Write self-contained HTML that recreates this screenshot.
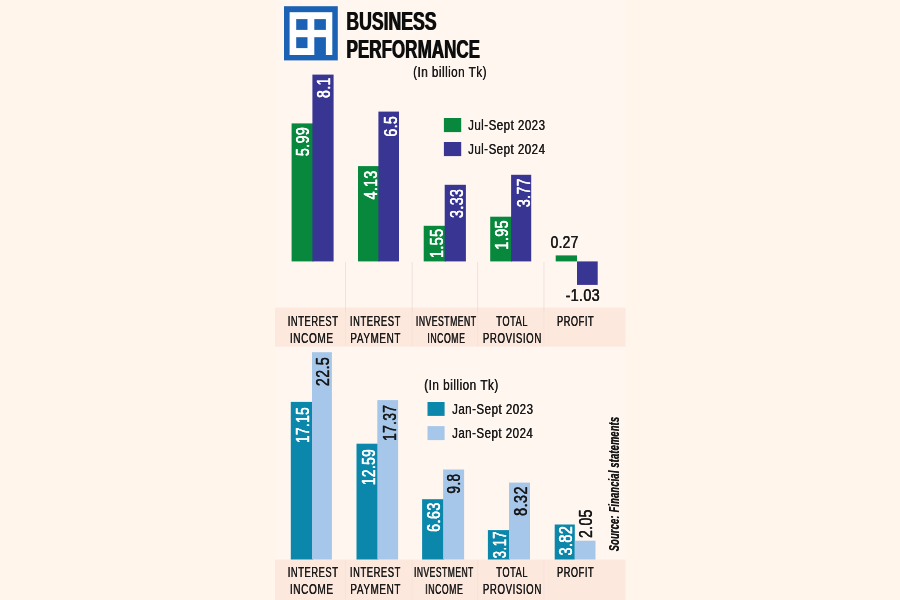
<!DOCTYPE html>
<html lang="en">
<head>
<meta charset="utf-8">
<title>Business performance</title>
<style>
html,body{margin:0;padding:0;background:#fff5ea;}
body{width:900px;height:600px;overflow:hidden;font-family:"Liberation Sans",sans-serif;}
svg{display:block;}
text{font-family:"Liberation Sans",sans-serif;}
</style>
</head>
<body>
<svg width="900" height="600" viewBox="0 0 900 600">
<defs><filter id="soft" x="0" y="0" width="900" height="600" filterUnits="userSpaceOnUse"><feGaussianBlur stdDeviation="0.3"/></filter></defs>
<rect x="0" y="0" width="900" height="600" fill="#fff5ea"/>
<rect x="275.5" y="0" width="350.5" height="600" fill="#fff6f0"/>
<rect x="275" y="307.5" width="350.6" height="39.2" fill="#fde8de"/>
<rect x="275" y="559.5" width="350.6" height="40.5" fill="#fde8de"/>
<rect x="345.0" y="262" width="1" height="50" fill="#e6d3ca" opacity="0.55"/>
<rect x="345.0" y="312" width="1" height="34" fill="#e6d3ca" opacity="0.25"/>
<rect x="345.0" y="559.5" width="1" height="40.5" fill="#e6d3ca" opacity="0.2"/>
<rect x="411.7" y="262" width="1" height="50" fill="#e6d3ca" opacity="0.55"/>
<rect x="411.7" y="312" width="1" height="34" fill="#e6d3ca" opacity="0.25"/>
<rect x="411.7" y="559.5" width="1" height="40.5" fill="#e6d3ca" opacity="0.2"/>
<rect x="477.1" y="262" width="1" height="50" fill="#e6d3ca" opacity="0.55"/>
<rect x="477.1" y="312" width="1" height="34" fill="#e6d3ca" opacity="0.25"/>
<rect x="477.1" y="559.5" width="1" height="40.5" fill="#e6d3ca" opacity="0.2"/>
<rect x="543.4" y="262" width="1" height="50" fill="#e6d3ca" opacity="0.55"/>
<rect x="543.4" y="312" width="1" height="34" fill="#e6d3ca" opacity="0.25"/>
<rect x="543.4" y="559.5" width="1" height="40.5" fill="#e6d3ca" opacity="0.2"/>
<g>
<rect x="284" y="6.2" width="53.8" height="54.2" fill="#1c62b4"/>
<rect x="289.6" y="12.2" width="42.7" height="42.8" fill="#ffffff"/>
<rect x="296.2" y="19.1" width="11.3" height="10.8" fill="#1c62b4"/>
<rect x="314.3" y="19.1" width="11.6" height="10.8" fill="#1c62b4"/>
<rect x="296.2" y="37.2" width="11.3" height="10.9" fill="#1c62b4"/>
<rect x="314.3" y="37.2" width="11.6" height="18.8" fill="#1c62b4"/>
</g>
<rect x="443.9" y="118" width="17.3" height="14.1" fill="#07883d"/>
<rect x="443.9" y="142" width="17.3" height="14.1" fill="#393592"/>
<rect x="427.5" y="402" width="17.1" height="13.9" fill="#0b87ab"/>
<rect x="427.5" y="426.1" width="17.1" height="14" fill="#a6c7e9"/>
<rect x="291.6" y="123.4" width="21.8" height="138.0" fill="#07883d"/>
<rect x="312.4" y="74.6" width="21.2" height="186.8" fill="#393592"/>
<rect x="358.0" y="166.1" width="21.4" height="95.3" fill="#07883d"/>
<rect x="378.4" y="111.6" width="20.6" height="149.8" fill="#393592"/>
<rect x="423.7" y="225.8" width="22.0" height="35.6" fill="#07883d"/>
<rect x="444.7" y="184.8" width="21.2" height="76.6" fill="#393592"/>
<rect x="490.2" y="216.7" width="21.9" height="44.7" fill="#07883d"/>
<rect x="511.1" y="174.8" width="20.1" height="86.6" fill="#393592"/>
<rect x="555.7" y="255.4" width="21.3" height="6.0" fill="#07883d"/>
<rect x="577.0" y="261.4" width="20.7" height="23.5" fill="#393592"/>
<rect x="290.8" y="401.9" width="22.2" height="157.6" fill="#0b87ab"/>
<rect x="312.0" y="352.2" width="19.9" height="207.3" fill="#a6c7e9"/>
<rect x="356.5" y="443.7" width="21.8" height="115.8" fill="#0b87ab"/>
<rect x="377.3" y="400.1" width="20.8" height="159.4" fill="#a6c7e9"/>
<rect x="422.1" y="499.2" width="22.0" height="60.3" fill="#0b87ab"/>
<rect x="443.1" y="469.5" width="21.0" height="90.0" fill="#a6c7e9"/>
<rect x="487.9" y="530.1" width="22.1" height="29.4" fill="#0b87ab"/>
<rect x="509.0" y="482.6" width="21.0" height="76.9" fill="#a6c7e9"/>
<rect x="554.7" y="524.5" width="20.1" height="35.0" fill="#0b87ab"/>
<rect x="574.8" y="540.7" width="20.7" height="18.8" fill="#a6c7e9"/>
<g filter="url(#soft)">
<text transform="translate(346.04,29.90) scale(0.6742,1)" font-size="26.14" font-weight="700" font-style="normal" fill="#111111">BUSINESS</text>
<text transform="translate(346.84,29.90) scale(0.6742,1)" font-size="26.14" font-weight="700" font-style="normal" fill="#111111">BUSINESS</text>
<text transform="translate(346.08,58.30) scale(0.6526,1)" font-size="26.14" font-weight="700" font-style="normal" fill="#111111">PERFORMANCE</text>
<text transform="translate(346.88,58.30) scale(0.6526,1)" font-size="26.14" font-weight="700" font-style="normal" fill="#111111">PERFORMANCE</text>
<text transform="translate(413.00,77.20) scale(0.7926,1)" font-size="14.78" font-weight="400" font-style="normal" fill="#1a1a1a" letter-spacing="0.040em">(In billion Tk)</text>
<text transform="translate(413.30,77.20) scale(0.7926,1)" font-size="14.78" font-weight="400" font-style="normal" fill="#1a1a1a" letter-spacing="0.040em">(In billion Tk)</text>
<text transform="translate(424.09,389.90) scale(0.8003,1)" font-size="14.78" font-weight="400" font-style="normal" fill="#1a1a1a" letter-spacing="0.040em">(In billion Tk)</text>
<text transform="translate(424.39,389.90) scale(0.8003,1)" font-size="14.78" font-weight="400" font-style="normal" fill="#1a1a1a" letter-spacing="0.040em">(In billion Tk)</text>
<text transform="translate(467.88,129.80) scale(0.7549,1)" font-size="15.36" font-weight="400" font-style="normal" fill="#1a1a1a" letter-spacing="0.040em">Jul-Sept 2023</text>
<text transform="translate(468.18,129.80) scale(0.7549,1)" font-size="15.36" font-weight="400" font-style="normal" fill="#1a1a1a" letter-spacing="0.040em">Jul-Sept 2023</text>
<text transform="translate(467.88,153.90) scale(0.7538,1)" font-size="15.36" font-weight="400" font-style="normal" fill="#1a1a1a" letter-spacing="0.040em">Jul-Sept 2024</text>
<text transform="translate(468.18,153.90) scale(0.7538,1)" font-size="15.36" font-weight="400" font-style="normal" fill="#1a1a1a" letter-spacing="0.040em">Jul-Sept 2024</text>
<text transform="translate(451.88,414.00) scale(0.7552,1)" font-size="15.36" font-weight="400" font-style="normal" fill="#1a1a1a" letter-spacing="0.040em">Jan-Sept 2023</text>
<text transform="translate(452.18,414.00) scale(0.7552,1)" font-size="15.36" font-weight="400" font-style="normal" fill="#1a1a1a" letter-spacing="0.040em">Jan-Sept 2023</text>
<text transform="translate(451.88,438.10) scale(0.7541,1)" font-size="15.36" font-weight="400" font-style="normal" fill="#1a1a1a" letter-spacing="0.040em">Jan-Sept 2024</text>
<text transform="translate(452.18,438.10) scale(0.7541,1)" font-size="15.36" font-weight="400" font-style="normal" fill="#1a1a1a" letter-spacing="0.040em">Jan-Sept 2024</text>
<text transform="translate(550.57,247.80) scale(0.8171,1)" font-size="16.86" font-weight="400" font-style="normal" fill="#1a1a1a" stroke="#1a1a1a" stroke-width="0.20" stroke-linejoin="round" letter-spacing="0.020em">0.27</text>
<text transform="translate(550.82,247.80) scale(0.8171,1)" font-size="16.86" font-weight="400" font-style="normal" fill="#1a1a1a" stroke="#1a1a1a" stroke-width="0.20" stroke-linejoin="round" letter-spacing="0.020em">0.27</text>
<text transform="translate(565.41,301.30) scale(0.8595,1)" font-size="16.86" font-weight="400" font-style="normal" fill="#1a1a1a" stroke="#1a1a1a" stroke-width="0.20" stroke-linejoin="round" letter-spacing="0.020em">-1.03</text>
<text transform="translate(565.66,301.30) scale(0.8595,1)" font-size="16.86" font-weight="400" font-style="normal" fill="#1a1a1a" stroke="#1a1a1a" stroke-width="0.20" stroke-linejoin="round" letter-spacing="0.020em">-1.03</text>
<text transform="translate(287.56,326.00) scale(0.6219,1)" font-size="15.07" font-weight="400" font-style="normal" fill="#1a1a1a" letter-spacing="0.060em">INTEREST</text>
<text transform="translate(287.91,326.00) scale(0.6219,1)" font-size="15.07" font-weight="400" font-style="normal" fill="#1a1a1a" letter-spacing="0.060em">INTEREST</text>
<text transform="translate(289.69,343.40) scale(0.6685,1)" font-size="15.07" font-weight="400" font-style="normal" fill="#1a1a1a" letter-spacing="0.060em">INCOME</text>
<text transform="translate(290.04,343.40) scale(0.6685,1)" font-size="15.07" font-weight="400" font-style="normal" fill="#1a1a1a" letter-spacing="0.060em">INCOME</text>
<text transform="translate(349.75,326.00) scale(0.6244,1)" font-size="15.07" font-weight="400" font-style="normal" fill="#1a1a1a" letter-spacing="0.060em">INTEREST</text>
<text transform="translate(350.10,326.00) scale(0.6244,1)" font-size="15.07" font-weight="400" font-style="normal" fill="#1a1a1a" letter-spacing="0.060em">INTEREST</text>
<text transform="translate(350.21,343.40) scale(0.6581,1)" font-size="15.07" font-weight="400" font-style="normal" fill="#1a1a1a" letter-spacing="0.060em">PAYMENT</text>
<text transform="translate(350.56,343.40) scale(0.6581,1)" font-size="15.07" font-weight="400" font-style="normal" fill="#1a1a1a" letter-spacing="0.060em">PAYMENT</text>
<text transform="translate(415.73,326.00) scale(0.5709,1)" font-size="15.07" font-weight="400" font-style="normal" fill="#1a1a1a" letter-spacing="0.060em">INVESTMENT</text>
<text transform="translate(416.08,326.00) scale(0.5709,1)" font-size="15.07" font-weight="400" font-style="normal" fill="#1a1a1a" letter-spacing="0.060em">INVESTMENT</text>
<text transform="translate(427.21,343.40) scale(0.5795,1)" font-size="15.07" font-weight="400" font-style="normal" fill="#1a1a1a" letter-spacing="0.060em">INCOME</text>
<text transform="translate(427.56,343.40) scale(0.5795,1)" font-size="15.07" font-weight="400" font-style="normal" fill="#1a1a1a" letter-spacing="0.060em">INCOME</text>
<text transform="translate(496.11,326.00) scale(0.6157,1)" font-size="15.07" font-weight="400" font-style="normal" fill="#1a1a1a" letter-spacing="0.060em">TOTAL</text>
<text transform="translate(496.46,326.00) scale(0.6157,1)" font-size="15.07" font-weight="400" font-style="normal" fill="#1a1a1a" letter-spacing="0.060em">TOTAL</text>
<text transform="translate(482.73,343.40) scale(0.6421,1)" font-size="15.07" font-weight="400" font-style="normal" fill="#1a1a1a" letter-spacing="0.060em">PROVISION</text>
<text transform="translate(483.08,343.40) scale(0.6421,1)" font-size="15.07" font-weight="400" font-style="normal" fill="#1a1a1a" letter-spacing="0.060em">PROVISION</text>
<text transform="translate(556.86,326.00) scale(0.6119,1)" font-size="15.07" font-weight="400" font-style="normal" fill="#1a1a1a" letter-spacing="0.060em">PROFIT</text>
<text transform="translate(557.21,326.00) scale(0.6119,1)" font-size="15.07" font-weight="400" font-style="normal" fill="#1a1a1a" letter-spacing="0.060em">PROFIT</text>
<text transform="translate(287.56,576.60) scale(0.6219,1)" font-size="15.07" font-weight="400" font-style="normal" fill="#1a1a1a" letter-spacing="0.060em">INTEREST</text>
<text transform="translate(287.91,576.60) scale(0.6219,1)" font-size="15.07" font-weight="400" font-style="normal" fill="#1a1a1a" letter-spacing="0.060em">INTEREST</text>
<text transform="translate(289.69,594.00) scale(0.6685,1)" font-size="15.07" font-weight="400" font-style="normal" fill="#1a1a1a" letter-spacing="0.060em">INCOME</text>
<text transform="translate(290.04,594.00) scale(0.6685,1)" font-size="15.07" font-weight="400" font-style="normal" fill="#1a1a1a" letter-spacing="0.060em">INCOME</text>
<text transform="translate(349.75,576.60) scale(0.6244,1)" font-size="15.07" font-weight="400" font-style="normal" fill="#1a1a1a" letter-spacing="0.060em">INTEREST</text>
<text transform="translate(350.10,576.60) scale(0.6244,1)" font-size="15.07" font-weight="400" font-style="normal" fill="#1a1a1a" letter-spacing="0.060em">INTEREST</text>
<text transform="translate(350.21,594.00) scale(0.6581,1)" font-size="15.07" font-weight="400" font-style="normal" fill="#1a1a1a" letter-spacing="0.060em">PAYMENT</text>
<text transform="translate(350.56,594.00) scale(0.6581,1)" font-size="15.07" font-weight="400" font-style="normal" fill="#1a1a1a" letter-spacing="0.060em">PAYMENT</text>
<text transform="translate(413.83,576.60) scale(0.5641,1)" font-size="15.07" font-weight="400" font-style="normal" fill="#1a1a1a" letter-spacing="0.060em">INVESTMENT</text>
<text transform="translate(414.18,576.60) scale(0.5641,1)" font-size="15.07" font-weight="400" font-style="normal" fill="#1a1a1a" letter-spacing="0.060em">INVESTMENT</text>
<text transform="translate(425.11,594.00) scale(0.5795,1)" font-size="15.07" font-weight="400" font-style="normal" fill="#1a1a1a" letter-spacing="0.060em">INCOME</text>
<text transform="translate(425.46,594.00) scale(0.5795,1)" font-size="15.07" font-weight="400" font-style="normal" fill="#1a1a1a" letter-spacing="0.060em">INCOME</text>
<text transform="translate(496.11,576.60) scale(0.6157,1)" font-size="15.07" font-weight="400" font-style="normal" fill="#1a1a1a" letter-spacing="0.060em">TOTAL</text>
<text transform="translate(496.46,576.60) scale(0.6157,1)" font-size="15.07" font-weight="400" font-style="normal" fill="#1a1a1a" letter-spacing="0.060em">TOTAL</text>
<text transform="translate(482.73,594.00) scale(0.6421,1)" font-size="15.07" font-weight="400" font-style="normal" fill="#1a1a1a" letter-spacing="0.060em">PROVISION</text>
<text transform="translate(483.08,594.00) scale(0.6421,1)" font-size="15.07" font-weight="400" font-style="normal" fill="#1a1a1a" letter-spacing="0.060em">PROVISION</text>
<text transform="translate(556.86,576.60) scale(0.6119,1)" font-size="15.07" font-weight="400" font-style="normal" fill="#1a1a1a" letter-spacing="0.060em">PROFIT</text>
<text transform="translate(557.21,576.60) scale(0.6119,1)" font-size="15.07" font-weight="400" font-style="normal" fill="#1a1a1a" letter-spacing="0.060em">PROFIT</text>
<text transform="translate(308.90,155.94) rotate(-90) scale(0.7739,1)" font-size="18.29" font-weight="400" font-style="normal" fill="#ffffff" stroke="#ffffff" stroke-width="0.20" stroke-linejoin="round" letter-spacing="0.030em">5.99</text>
<text transform="translate(308.90,156.09) rotate(-90) scale(0.7739,1)" font-size="18.29" font-weight="400" font-style="normal" fill="#ffffff" stroke="#ffffff" stroke-width="0.20" stroke-linejoin="round" letter-spacing="0.030em">5.99</text>
<text transform="translate(329.90,97.73) rotate(-90) scale(0.7577,1)" font-size="18.29" font-weight="400" font-style="normal" fill="#ffffff" stroke="#ffffff" stroke-width="0.20" stroke-linejoin="round" letter-spacing="0.030em">8.1</text>
<text transform="translate(329.90,97.88) rotate(-90) scale(0.7577,1)" font-size="18.29" font-weight="400" font-style="normal" fill="#ffffff" stroke="#ffffff" stroke-width="0.20" stroke-linejoin="round" letter-spacing="0.030em">8.1</text>
<text transform="translate(376.90,199.35) rotate(-90) scale(0.7677,1)" font-size="18.29" font-weight="400" font-style="normal" fill="#ffffff" stroke="#ffffff" stroke-width="0.20" stroke-linejoin="round" letter-spacing="0.030em">4.13</text>
<text transform="translate(376.90,199.50) rotate(-90) scale(0.7677,1)" font-size="18.29" font-weight="400" font-style="normal" fill="#ffffff" stroke="#ffffff" stroke-width="0.20" stroke-linejoin="round" letter-spacing="0.030em">4.13</text>
<text transform="translate(396.60,136.48) rotate(-90) scale(0.7696,1)" font-size="18.29" font-weight="400" font-style="normal" fill="#ffffff" stroke="#ffffff" stroke-width="0.20" stroke-linejoin="round" letter-spacing="0.030em">6.5</text>
<text transform="translate(396.60,136.63) rotate(-90) scale(0.7696,1)" font-size="18.29" font-weight="400" font-style="normal" fill="#ffffff" stroke="#ffffff" stroke-width="0.20" stroke-linejoin="round" letter-spacing="0.030em">6.5</text>
<text transform="translate(442.70,257.97) rotate(-90) scale(0.7818,1)" font-size="18.29" font-weight="400" font-style="normal" fill="#ffffff" stroke="#ffffff" stroke-width="0.20" stroke-linejoin="round" letter-spacing="0.030em">1.55</text>
<text transform="translate(442.70,258.12) rotate(-90) scale(0.7818,1)" font-size="18.29" font-weight="400" font-style="normal" fill="#ffffff" stroke="#ffffff" stroke-width="0.20" stroke-linejoin="round" letter-spacing="0.030em">1.55</text>
<text transform="translate(463.10,217.90) rotate(-90) scale(0.7771,1)" font-size="18.29" font-weight="400" font-style="normal" fill="#ffffff" stroke="#ffffff" stroke-width="0.20" stroke-linejoin="round" letter-spacing="0.030em">3.33</text>
<text transform="translate(463.10,218.05) rotate(-90) scale(0.7771,1)" font-size="18.29" font-weight="400" font-style="normal" fill="#ffffff" stroke="#ffffff" stroke-width="0.20" stroke-linejoin="round" letter-spacing="0.030em">3.33</text>
<text transform="translate(507.60,249.48) rotate(-90) scale(0.7846,1)" font-size="18.29" font-weight="400" font-style="normal" fill="#ffffff" stroke="#ffffff" stroke-width="0.20" stroke-linejoin="round" letter-spacing="0.030em">1.95</text>
<text transform="translate(507.60,249.63) rotate(-90) scale(0.7846,1)" font-size="18.29" font-weight="400" font-style="normal" fill="#ffffff" stroke="#ffffff" stroke-width="0.20" stroke-linejoin="round" letter-spacing="0.030em">1.95</text>
<text transform="translate(529.60,206.99) rotate(-90) scale(0.7671,1)" font-size="18.29" font-weight="400" font-style="normal" fill="#ffffff" stroke="#ffffff" stroke-width="0.20" stroke-linejoin="round" letter-spacing="0.030em">3.77</text>
<text transform="translate(529.60,207.14) rotate(-90) scale(0.7671,1)" font-size="18.29" font-weight="400" font-style="normal" fill="#ffffff" stroke="#ffffff" stroke-width="0.20" stroke-linejoin="round" letter-spacing="0.030em">3.77</text>
<text transform="translate(308.60,442.93) rotate(-90) scale(0.7433,1)" font-size="18.29" font-weight="400" font-style="normal" fill="#ffffff" stroke="#ffffff" stroke-width="0.20" stroke-linejoin="round" letter-spacing="0.030em">17.15</text>
<text transform="translate(308.60,443.08) rotate(-90) scale(0.7433,1)" font-size="18.29" font-weight="400" font-style="normal" fill="#ffffff" stroke="#ffffff" stroke-width="0.20" stroke-linejoin="round" letter-spacing="0.030em">17.15</text>
<text transform="translate(329.10,385.98) rotate(-90) scale(0.7711,1)" font-size="18.29" font-weight="400" font-style="normal" fill="#1a1a1a" stroke="#1a1a1a" stroke-width="0.20" stroke-linejoin="round" letter-spacing="0.030em">22.5</text>
<text transform="translate(329.10,386.13) rotate(-90) scale(0.7711,1)" font-size="18.29" font-weight="400" font-style="normal" fill="#1a1a1a" stroke="#1a1a1a" stroke-width="0.20" stroke-linejoin="round" letter-spacing="0.030em">22.5</text>
<text transform="translate(374.90,485.14) rotate(-90) scale(0.7506,1)" font-size="18.29" font-weight="400" font-style="normal" fill="#ffffff" stroke="#ffffff" stroke-width="0.20" stroke-linejoin="round" letter-spacing="0.030em">12.59</text>
<text transform="translate(374.90,485.29) rotate(-90) scale(0.7506,1)" font-size="18.29" font-weight="400" font-style="normal" fill="#ffffff" stroke="#ffffff" stroke-width="0.20" stroke-linejoin="round" letter-spacing="0.030em">12.59</text>
<text transform="translate(395.90,440.73) rotate(-90) scale(0.7441,1)" font-size="18.29" font-weight="400" font-style="normal" fill="#1a1a1a" stroke="#1a1a1a" stroke-width="0.20" stroke-linejoin="round" letter-spacing="0.030em">17.37</text>
<text transform="translate(395.90,440.88) rotate(-90) scale(0.7441,1)" font-size="18.29" font-weight="400" font-style="normal" fill="#1a1a1a" stroke="#1a1a1a" stroke-width="0.20" stroke-linejoin="round" letter-spacing="0.030em">17.37</text>
<text transform="translate(440.10,531.79) rotate(-90) scale(0.7850,1)" font-size="18.29" font-weight="400" font-style="normal" fill="#ffffff" stroke="#ffffff" stroke-width="0.20" stroke-linejoin="round" letter-spacing="0.030em">6.63</text>
<text transform="translate(440.10,531.94) rotate(-90) scale(0.7850,1)" font-size="18.29" font-weight="400" font-style="normal" fill="#ffffff" stroke="#ffffff" stroke-width="0.20" stroke-linejoin="round" letter-spacing="0.030em">6.63</text>
<text transform="translate(460.40,493.62) rotate(-90) scale(0.7483,1)" font-size="18.29" font-weight="400" font-style="normal" fill="#1a1a1a" stroke="#1a1a1a" stroke-width="0.20" stroke-linejoin="round" letter-spacing="0.030em">9.8</text>
<text transform="translate(460.40,493.77) rotate(-90) scale(0.7483,1)" font-size="18.29" font-weight="400" font-style="normal" fill="#1a1a1a" stroke="#1a1a1a" stroke-width="0.20" stroke-linejoin="round" letter-spacing="0.030em">9.8</text>
<text transform="translate(505.50,558.17) rotate(-90) scale(0.7228,1)" font-size="18.29" font-weight="400" font-style="normal" fill="#ffffff" stroke="#ffffff" stroke-width="0.20" stroke-linejoin="round" letter-spacing="0.030em">3.17</text>
<text transform="translate(505.50,558.32) rotate(-90) scale(0.7228,1)" font-size="18.29" font-weight="400" font-style="normal" fill="#ffffff" stroke="#ffffff" stroke-width="0.20" stroke-linejoin="round" letter-spacing="0.030em">3.17</text>
<text transform="translate(527.00,515.75) rotate(-90) scale(0.7878,1)" font-size="18.29" font-weight="400" font-style="normal" fill="#1a1a1a" stroke="#1a1a1a" stroke-width="0.20" stroke-linejoin="round" letter-spacing="0.030em">8.32</text>
<text transform="translate(527.00,515.90) rotate(-90) scale(0.7878,1)" font-size="18.29" font-weight="400" font-style="normal" fill="#1a1a1a" stroke="#1a1a1a" stroke-width="0.20" stroke-linejoin="round" letter-spacing="0.030em">8.32</text>
<text transform="translate(571.90,555.40) rotate(-90) scale(0.7866,1)" font-size="18.29" font-weight="400" font-style="normal" fill="#ffffff" stroke="#ffffff" stroke-width="0.20" stroke-linejoin="round" letter-spacing="0.030em">3.82</text>
<text transform="translate(571.90,555.55) rotate(-90) scale(0.7866,1)" font-size="18.29" font-weight="400" font-style="normal" fill="#ffffff" stroke="#ffffff" stroke-width="0.20" stroke-linejoin="round" letter-spacing="0.030em">3.82</text>
<text transform="translate(592.40,537.97) rotate(-90) scale(0.7655,1)" font-size="18.29" font-weight="400" font-style="normal" fill="#1a1a1a" stroke="#1a1a1a" stroke-width="0.20" stroke-linejoin="round" letter-spacing="0.030em">2.05</text>
<text transform="translate(592.40,538.12) rotate(-90) scale(0.7655,1)" font-size="18.29" font-weight="400" font-style="normal" fill="#1a1a1a" stroke="#1a1a1a" stroke-width="0.20" stroke-linejoin="round" letter-spacing="0.030em">2.05</text>
<text transform="translate(618.80,550.99) rotate(-90) scale(0.6391,1)" font-size="14.29" font-weight="700" font-style="italic" fill="#151515" letter-spacing="0.030em">Source: Financial statements</text>
<text transform="translate(618.80,551.29) rotate(-90) scale(0.6391,1)" font-size="14.29" font-weight="700" font-style="italic" fill="#151515" letter-spacing="0.030em">Source: Financial statements</text>
</g>
</svg>
</body>
</html>
